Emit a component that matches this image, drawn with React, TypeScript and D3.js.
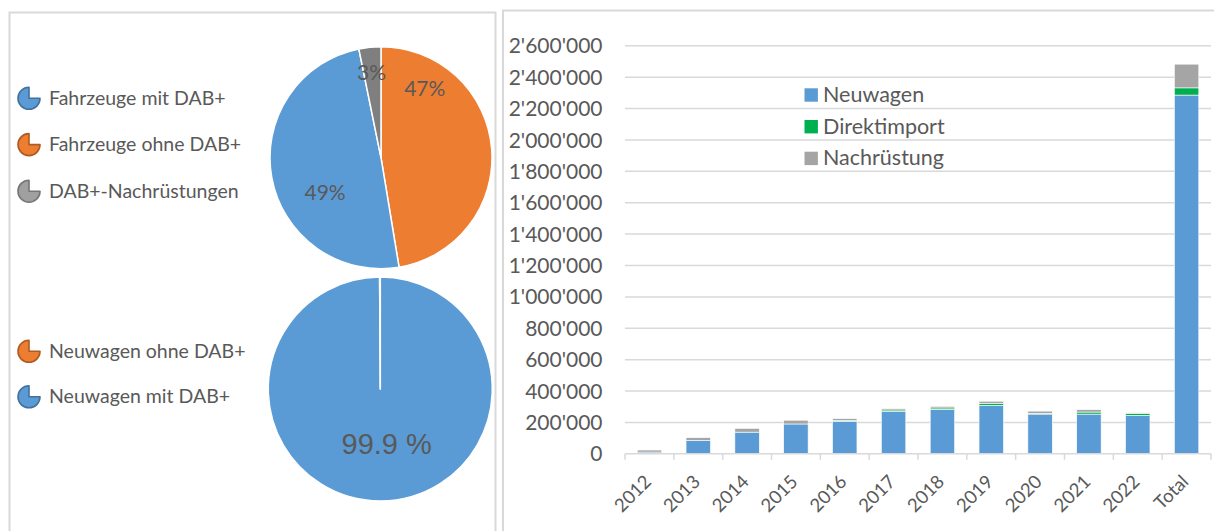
import React from 'react';
import * as d3 from 'd3';

// ---------- data ----------
const years = ['2012', '2013', '2014', '2015', '2016', '2017', '2018', '2019', '2020', '2021', '2022', 'Total'];
const neuwagen = [11000, 85000, 138000, 190000, 207000, 270000, 283000, 309000, 253000, 253000, 245000, 2286000];
const direktimport = [0, 0, 0, 0, 6000, 9000, 9000, 13000, 4000, 13000, 13000, 46000];
const nachruestung = [13000, 18000, 24000, 24000, 11000, 8000, 10000, 13000, 15000, 15000, 3000, 151000];
const barSeries = ['Neuwagen', 'Direktimport', 'Nachrüstung'];
const yTicks = d3.range(0, 2600001, 200000);

const pie1Legend = ['Fahrzeuge mit DAB+', 'Fahrzeuge ohne DAB+', 'DAB+-Nachrüstungen'];
// drawing order clockwise from 12 o'clock
const pie1Names = ['Fahrzeuge ohne DAB+', 'Fahrzeuge mit DAB+', 'DAB+-Nachrüstungen'];
const pie1Values = [47.4, 49.4, 3.2];
const pie1Labels = ['47%', '49%', '3%'];

const pie2Legend = ['Neuwagen ohne DAB+', 'Neuwagen mit DAB+'];
const pie2Names = ['Neuwagen mit DAB+', 'Neuwagen ohne DAB+'];
const pie2Values = [99.9, 0.1];
const pie2Labels = ['99.9 %', ''];

// ---------- styles ----------
const TEXT = '#595959';
const GRID = '#d9d9d9';
const FONT = 'Lato, "Open Sans", sans-serif';
const colorOf: Record<string, string> = {
  'Fahrzeuge mit DAB+': '#5b9bd5',
  'Fahrzeuge ohne DAB+': '#ed7d31',
  'DAB+-Nachrüstungen': '#7f7f7f',
  'Neuwagen mit DAB+': '#5b9bd5',
  'Neuwagen ohne DAB+': '#ed7d31',
  Neuwagen: '#5b9bd5',
  Direktimport: '#00b050',
  'Nachrüstung': '#a5a5a5',
};
const iconFill: Record<string, string> = {
  'Fahrzeuge mit DAB+': '#5b9bd5',
  'Fahrzeuge ohne DAB+': '#ed7d31',
  'DAB+-Nachrüstungen': '#a0a0a0',
  'Neuwagen mit DAB+': '#5b9bd5',
  'Neuwagen ohne DAB+': '#ed7d31',
};
const iconStroke: Record<string, string> = {
  'Fahrzeuge mit DAB+': '#41719c',
  'Fahrzeuge ohne DAB+': '#ae5a21',
  'DAB+-Nachrüstungen': '#767676',
  'Neuwagen mit DAB+': '#41719c',
  'Neuwagen ohne DAB+': '#ae5a21',
};
// label placement inside slice: [fraction of slice angle, fraction of radius]
const pie1LabelPos = [[0.19, 0.735], [0.378, 0.595], [0.45, 0.77]];
const pie2LabelPos = [[0.482, 0.49], [0.5, 0.5]];

const fmt = d3.formatLocale({ decimal: '.', thousands: "'", grouping: [3], currency: ['', ''] }).format(',');

function Pie({ cx, cy, r, names, values, labels, labelPos, labelFont, labelSize }: any) {
  const arcs = d3.pie<number>().sort(null).value((d) => d)(values);
  const arc = d3.arc<any>().innerRadius(0).outerRadius(r);
  return (
    <g transform={`translate(${cx},${cy})`}>
      {arcs.map((a, i) => (
        <path key={i} d={arc(a) as string} fill={colorOf[names[i]]} stroke="#fff" strokeWidth={1.5} strokeLinejoin="round" />
      ))}
      {arcs.map((a, i) => {
        if (!labels[i]) return null;
        const [fa, fr] = labelPos[i];
        const ang = a.startAngle + (a.endAngle - a.startAngle) * fa;
        const rr = r * fr;
        const x = Math.sin(ang) * rr;
        const y = -Math.cos(ang) * rr;
        return (
          <text key={'l' + i} x={x} y={y} dy="0.36em" textAnchor="middle" fill={TEXT} fontFamily={labelFont} fontSize={labelSize}>
            {labels[i]}
          </text>
        );
      })}
    </g>
  );
}

function PieLegend({ items, x, ys }: any) {
  const icon = d3.arc<any>().innerRadius(0).outerRadius(11).startAngle(Math.PI / 2).endAngle(Math.PI * 2);
  return (
    <g>
      {items.map((name: string, i: number) => (
        <g key={name}>
          <path d={icon({}) as string} transform={`translate(${x},${ys[i]})`} fill={iconFill[name]} stroke={iconStroke[name]} strokeWidth={1.6} strokeLinejoin="round" />
          <text x={x + 20} y={ys[i] + 6.5} fill={TEXT} fontFamily={FONT} fontSize={19.5}>
            {name}
          </text>
        </g>
      ))}
    </g>
  );
}

export default function App() {
  const W = 1214;
  const H = 531;
  const x0 = 625;
  const x1 = 1211;
  const yBase = 453.8;
  const yTop = 45.8;

  const x = d3.scaleBand<string>().domain(years).range([x0, x1]).paddingInner(0.5).paddingOuter(0.25);
  const step = x.step();
  const y = d3.scaleLinear().domain([0, 2600000]).range([yBase, yTop]);

  const rows = years.map((yr, i) => ({
    year: yr,
    Neuwagen: neuwagen[i],
    Direktimport: direktimport[i],
    'Nachrüstung': nachruestung[i],
  }));
  const stacked = d3.stack<any>().keys(barSeries)(rows);

  const legendYs = [95, 126.7, 158.4];

  return (
    <svg width={W} height={H} style={{ position: 'absolute', left: 0, top: 0, background: '#fff' }}>
      <rect x={0} y={0} width={W} height={H} fill="#fff" />
      {/* panel borders */}
      <rect x={9.5} y={12.5} width={486} height={700} fill="none" stroke={GRID} strokeWidth={2} />
      <rect x={503} y={10.5} width={800} height={700} fill="none" stroke={GRID} strokeWidth={2} />

      {/* left: pies */}
      <PieLegend items={pie1Legend} x={29} ys={[98.3, 144.6, 191.2]} />
      <Pie cx={381} cy={157.7} r={111} names={pie1Names} values={pie1Values} labels={pie1Labels} labelPos={pie1LabelPos} labelFont={FONT} labelSize={21} />
      <PieLegend items={pie2Legend} x={29} ys={[351.3, 396.8]} />
      <Pie cx={380.3} cy={389} r={112} names={pie2Names} values={pie2Values} labels={pie2Labels} labelPos={pie2LabelPos} labelFont={'"Liberation Sans", Arial, sans-serif'} labelSize={29} />

      {/* right: bar chart */}
      <g>
        {yTicks.map((t) => (
          <g key={t}>
            {t > 0 && <line x1={x0} x2={x1} y1={y(t)} y2={y(t)} stroke={GRID} strokeWidth={1.5} />}
            <text x={602.5} y={y(t)} dy="0.36em" textAnchor="end" fill={TEXT} fontFamily={FONT} fontSize={21}>
              {fmt(t)}
            </text>
          </g>
        ))}
        {stacked.map((s) => (
          <g key={s.key} fill={colorOf[s.key]}>
            {s.map((d: any, i: number) =>
              d[1] - d[0] > 0 ? (
                <rect
                  key={i}
                  x={x(years[i])}
                  width={x.bandwidth()}
                  y={y(d[1])}
                  height={y(d[0]) - y(d[1])}
                  stroke="#fff"
                  strokeWidth={0.6}
                />
              ) : null
            )}
          </g>
        ))}
        <line x1={x0} x2={x1} y1={yBase} y2={yBase} stroke={GRID} strokeWidth={1.5} />
        {d3.range(years.length + 1).map((i) => {
          const tx = x0 + i * step;
          return <line key={i} x1={tx} x2={tx} y1={yBase} y2={yBase + 6} stroke={GRID} strokeWidth={1.5} />;
        })}
        {years.map((yr) => {
          const cxp = (x(yr) as number) + x.bandwidth() / 2;
          return (
            <text key={yr} transform={`translate(${cxp + 3},${yBase + 29}) rotate(-45)`} textAnchor="end" fill={TEXT} fontFamily={FONT} fontSize={18.5}>
              {yr}
            </text>
          );
        })}
        {/* legend */}
        {barSeries.map((k, i) => (
          <g key={k}>
            <rect x={804.5} y={legendYs[i] - 6.7} width={13.4} height={13.4} fill={colorOf[k]} />
            <text x={823} y={legendYs[i] + 6.8} fill={TEXT} fontFamily={FONT} fontSize={21.5}>
              {k}
            </text>
          </g>
        ))}
      </g>
    </svg>
  );
}
